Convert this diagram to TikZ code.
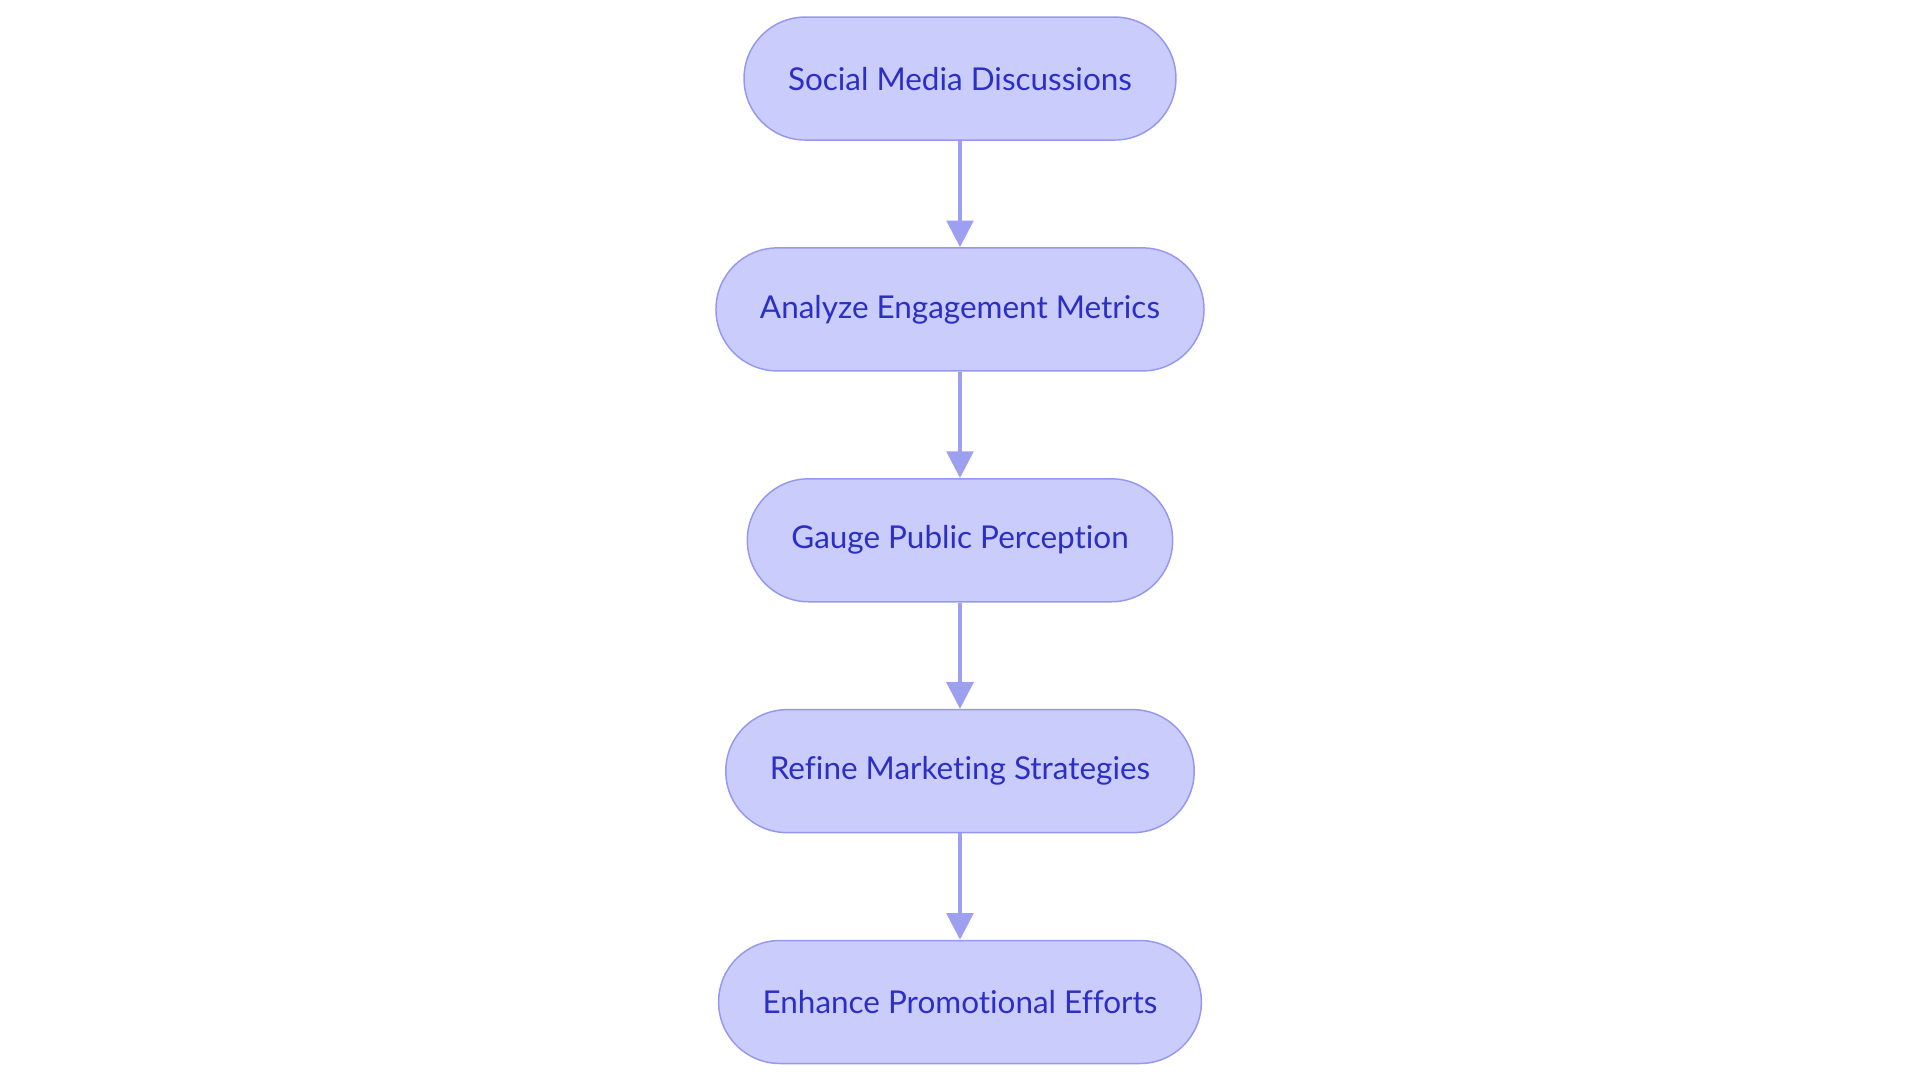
\documentclass[tikz,border=0pt]{standalone}
\usepackage{fontspec}
\setmainfont{Lato}[Ligatures=NoCommon]
\usepackage{tikz}
\usepackage{xcolor}
\usetikzlibrary{
    arrows.meta,
    positioning
}
\definecolor{boxfill}{HTML}{CACCFC}
\definecolor{boxline}{HTML}{9598EE}
\definecolor{boxtext}{HTML}{2B2FC4}
\definecolor{linkline}{HTML}{9DA0F0}

\begin{document}
\begin{tikzpicture}[
    box/.style={draw=boxline, line width=1.1pt, fill=boxfill, text=boxtext,
        rounded corners=46pt, minimum height=92.25pt, inner xsep=33pt,
        font=\fontsize{23.6}{28}\selectfont},
    link/.style={draw=linkline, line width=2.6pt,
        -{Triangle[length=20pt, width=20pt]}},
    node distance=79.8pt
]
    \useasboundingbox (-720pt, 58.9pt) rectangle (720pt, -753.4pt);
    \node[box] (social) at (0, 0) {Social Media Discussions};
    \node[box, below=of social] (analyze) {Analyze Engagement Metrics};
    \node[box, below=of analyze] (gauge) {Gauge Public Perception};
    \node[box, below=of gauge] (refine) {Refine Marketing Strategies};
    \node[box, below=of refine] (enhance) {Enhance Promotional Efforts};
    \draw[link] (social) -- (analyze);
    \draw[link] (analyze) -- (gauge);
    \draw[link] (gauge) -- (refine);
    \draw[link] (refine) -- (enhance);
\end{tikzpicture}
\end{document}
